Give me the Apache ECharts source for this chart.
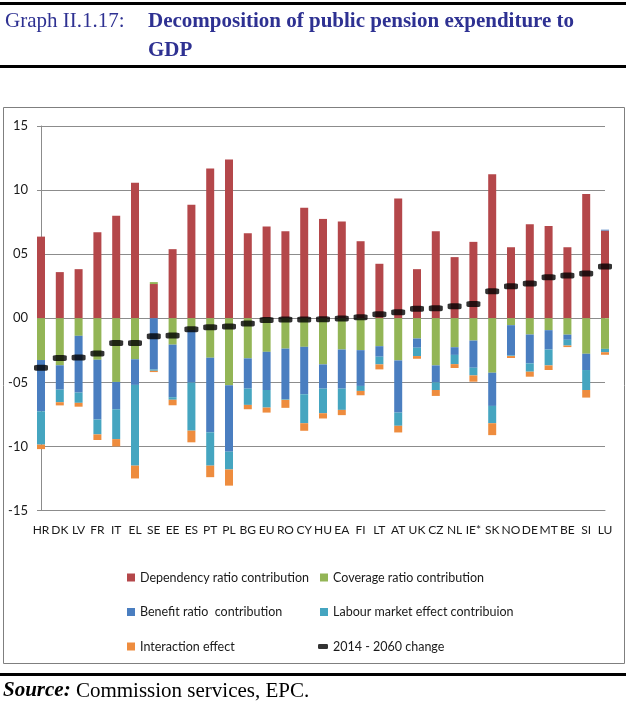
<!DOCTYPE html>
<html>
<head>
<meta charset="utf-8">
<script src="https://cdn.jsdelivr.net/npm/echarts@6/dist/echarts.min.js"></script>
<style>
html,body{margin:0;padding:0;background:#fff;}
#chart{width:630px;height:703px;}
</style>
</head>
<body>
<div id="chart"></div>
<script>
var categories = ['HR','DK','LV','FR','IT','EL','SE','EE','ES','PT','PL','BG','EU','RO','CY','HU','EA','FI','LT','AT','UK','CZ','NL','IE*','SK','NO','DE','MT','BE','SI','LU'];

var dependency = [6.37, 3.6, 3.83, 6.71, 8.0, 10.57, 2.67, 5.39, 8.86, 11.68, 12.38, 6.63, 7.15, 6.79, 8.63, 7.75, 7.54, 6.01, 4.25, 9.35, 3.83, 6.79, 4.77, 5.96, 11.24, 5.54, 7.33, 7.2, 5.54, 9.69, 6.84];
var coverage = [-3.26, -3.67, -1.37, -3.24, -4.97, -3.2, 0.15, -2.06, -0.92, -3.08, -5.23, -3.13, -2.62, -2.37, -2.23, -3.6, -2.44, -2.49, -2.18, -3.29, -1.58, -3.68, -2.26, -1.74, -4.25, -0.54, -1.27, -0.93, -1.28, -2.77, -2.39];
var benefit = [-4.0, -1.9, -4.43, -4.66, -2.13, -2.0, -4.0, -4.1, -4.1, -5.82, -5.18, -2.36, -2.98, -3.95, -3.7, -1.89, -3.05, -2.79, -0.82, -4.07, -0.72, -1.32, -0.6, -2.12, -2.59, -2.36, -2.25, -1.51, -0.4, -1.27, 0.07];
var labour = [-2.6, -0.98, -0.8, -1.16, -2.33, -6.3, -0.1, -0.2, -3.75, -2.6, -1.39, -1.27, -1.37, -0.05, -2.26, -1.92, -1.66, -0.39, -0.6, -1.03, -0.65, -0.6, -0.72, -0.6, -1.35, -0.05, -0.65, -1.24, -0.45, -1.56, -0.26];
var interaction = [-0.35, -0.25, -0.3, -0.44, -0.57, -1.0, -0.1, -0.43, -0.91, -0.9, -1.26, -0.34, -0.39, -0.62, -0.59, -0.41, -0.41, -0.34, -0.39, -0.52, -0.21, -0.46, -0.3, -0.49, -0.93, -0.15, -0.39, -0.36, -0.12, -0.59, -0.2];
var change = [-3.86, -3.1, -3.06, -2.75, -1.94, -1.94, -1.4, -1.35, -0.85, -0.7, -0.65, -0.41, -0.13, -0.1, -0.1, -0.08, -0.02, 0.08, 0.31, 0.47, 0.75, 0.78, 0.93, 1.11, 2.1, 2.49, 2.72, 3.19, 3.34, 3.5, 4.04];

var yTickValues = [-15, -10, -5, 0, 5, 10, 15];
var yTickLabels = ['-15', '-10', '-05', '00', '05', '10', '15'];

var names = {
  dep: 'Dependency ratio contribution',
  cov: 'Coverage ratio contribution',
  ben: 'Benefit ratio  contribution',
  lab: 'Labour market effect contribuion',
  inter: 'Interaction effect',
  chg: '2014 - 2060 change'
};

var sans = 'Lato, Roboto, sans-serif';
var serif = '"Liberation Serif","DejaVu Serif",serif';
var gridColor = '#8c8c8c';
var textColor = '#1a1a1a';

var chart = echarts.init(document.getElementById('chart'), null, {renderer: 'canvas'});

function barSeries(name, data, color) {
  return {
    name: name, type: 'bar', stack: 'total', data: data,
    barWidth: 8, itemStyle: {color: color}, clip: true
  };
}

var legendText = {fontFamily: sans, fontSize: 12.5, color: textColor, lineHeight: 17};

var option = {
  animation: false,
  backgroundColor: '#ffffff',
  title: [
    {text: 'Graph II.1.17:', left: 5, top: 7, padding: 0,
     textStyle: {fontFamily: serif, fontSize: 21, fontWeight: 'normal', color: '#2e3192', lineHeight: 29}},
    {text: 'Decomposition of public pension expenditure to\nGDP', left: 148, top: 7, padding: 0,
     textStyle: {fontFamily: serif, fontSize: 21, fontWeight: 'bold', color: '#2e3192', lineHeight: 29}},
    {text: '{a|Source:}{b| Commission services, EPC.}', left: 3, top: 680, padding: 0,
     textStyle: {rich: {
       a: {fontFamily: serif, fontSize: 21, fontWeight: 'bold', fontStyle: 'italic', color: '#000', lineHeight: 22},
       b: {fontFamily: serif, fontSize: 21, fontWeight: 'normal', color: '#000', lineHeight: 22}
     }}}
  ],
  graphic: [
    {type: 'rect', shape: {x: 0, y: 2, width: 626, height: 3}, style: {fill: '#000'}, silent: true},
    {type: 'rect', shape: {x: 0, y: 65, width: 626, height: 3}, style: {fill: '#000'}, silent: true},
    {type: 'rect', shape: {x: 3.5, y: 107.5, width: 621, height: 556}, style: {fill: 'none', stroke: '#7f7f7f', lineWidth: 1}, silent: true, z: -1},
    {type: 'rect', shape: {x: 0, y: 673, width: 626, height: 3}, style: {fill: '#000'}, silent: true}
  ],
  legend: [
    {orient: 'vertical', left: 127, top: 569, padding: 0, itemWidth: 8, itemHeight: 8, itemGap: 17.5,
     icon: 'rect', selectedMode: false, textStyle: legendText,
     data: [names.dep, names.ben, names.inter]},
    {orient: 'vertical', left: 320, top: 569, padding: 0, itemWidth: 8, itemHeight: 8, itemGap: 17.5,
     icon: 'rect', selectedMode: false, textStyle: legendText,
     data: [names.cov, names.lab]},
    {orient: 'vertical', left: 318, top: 638, padding: 0, itemWidth: 10, itemHeight: 5, itemGap: 17.5,
     selectedMode: false, textStyle: legendText,
     data: [{name: names.chg, icon: 'roundRect'}]}
  ],
  grid: {left: 41, top: 126, width: 564, height: 384.5, containLabel: false},
  xAxis: {
    type: 'category', data: categories, boundaryGap: false,
    axisLine: {show: true, onZero: false, lineStyle: {color: gridColor, width: 1}},
    axisTick: {show: false},
    splitLine: {show: false},
    axisLabel: {interval: 0, margin: 14, fontFamily: sans, fontSize: 12, color: textColor}
  },
  yAxis: {
    type: 'value', min: -15, max: 15, interval: 5,
    axisLine: {show: true, lineStyle: {color: gridColor, width: 1}},
    axisTick: {show: true, length: 4, lineStyle: {color: gridColor}},
    splitLine: {show: true, lineStyle: {color: gridColor, width: 1}},
    axisLabel: {margin: 13, fontFamily: sans, fontSize: 13, color: textColor,
      formatter: function (v) { var i = yTickValues.indexOf(v); return i >= 0 ? yTickLabels[i] : String(v); }}
  },
  series: [
    barSeries(names.dep, dependency, '#b4474a'),
    barSeries(names.cov, coverage, '#93b556'),
    barSeries(names.ben, benefit, '#4a7ec0'),
    barSeries(names.lab, labour, '#45a5c0'),
    barSeries(names.inter, interaction, '#ee8c3e'),
    {name: names.chg, type: 'scatter', data: change, symbol: 'roundRect', symbolSize: [14, 6],
     itemStyle: {color: '#000'}, clip: false, z: 5}
  ]
};
chart.setOption(option);
</script>
</body>
</html>
